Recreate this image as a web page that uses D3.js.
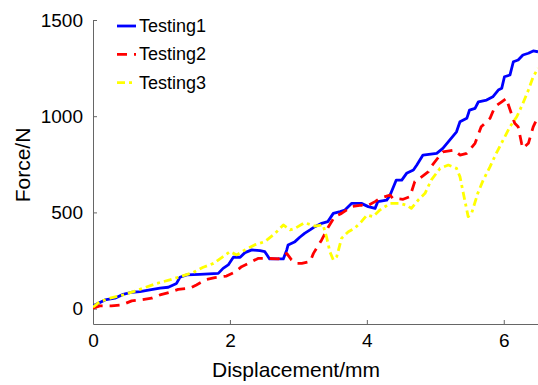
<!DOCTYPE html>
<html>
<head>
<meta charset="utf-8">
<script src="https://cdn.jsdelivr.net/npm/d3@7"></script>
<style>
  html, body { margin: 0; padding: 0; background: #fff; }
  svg { display: block; font-family: "Liberation Sans", Arial, sans-serif; }
</style>
</head>
<body>
<svg id="chart" width="538" height="385"></svg>
<script>
// Force–displacement curves of three tests
const seriesNames = ["Testing1", "Testing2", "Testing3"];

const disp1 = [0,0.175,0.32,0.44,0.565,0.686,0.83,0.978,1.10,1.22,1.27,1.37,1.56,1.83,1.90,1.975,2.05,2.15,2.22,2.32,2.44,2.51,2.58,2.78,2.83,2.85,2.95,3.02,3.09,3.17,3.24,3.34,3.43,3.51,3.61,3.68,3.78,3.92,4.02,4.12,4.16,4.29,4.34,4.43,4.51,4.58,4.68,4.73,4.82,5.02,5.11,5.21,5.31,5.36,5.46,5.50,5.58,5.63,5.75,5.84,5.92,5.97,6.01,6.09,6.14,6.21,6.28,6.36,6.43,6.50];
const force1 = [14,45,54,74,85,88,97,106,111,131,163,175,178,183,209,227,267,267,291,305,301,296,258,258,305,331,348,371,391,409,426,443,452,495,504,512,547,547,530,521,556,564,590,668,668,703,720,746,798,807,833,876,919,971,989,1032,1041,1075,1084,1101,1136,1145,1205,1214,1283,1292,1318,1327,1339,1335];

const disp2 = [0,0.10,0.27,0.42,0.565,0.686,0.857,0.978,1.12,1.245,1.416,1.51,1.66,1.78,1.95,2.07,2.17,2.27,2.41,2.56,2.705,2.78,2.83,2.90,2.97,3.05,3.17,3.22,3.34,3.44,3.53,3.63,3.78,3.92,4.0,4.12,4.19,4.34,4.38,4.53,4.63,4.70,4.77,4.90,4.94,5.07,5.11,5.28,5.36,5.46,5.58,5.67,5.80,5.87,5.97,6.04,6.06,6.11,6.16,6.21,6.26,6.28,6.36,6.43,6.50];
const force2 = [2,14,14,19,40,45,54,71,85,100,106,123,152,161,169,189,218,235,261,261,258,270,287,253,235,235,244,287,357,426,478,495,530,538,533,556,573,590,573,568,582,660,677,712,738,798,815,824,798,807,859,945,989,1049,1075,1093,1067,1015,963,945,859,833,859,945,997];

const disp3 = [0,0.10,0.25,0.44,0.59,0.73,0.93,1.12,1.32,1.46,1.61,1.76,1.90,2.0,2.10,2.22,2.36,2.51,2.66,2.78,2.88,2.95,3.09,3.24,3.36,3.41,3.46,3.51,3.56,3.63,3.73,3.82,3.92,4.0,4.09,4.19,4.34,4.48,4.58,4.65,4.75,4.85,4.94,5.07,5.19,5.31,5.36,5.43,5.48,5.53,5.62,5.70,5.80,5.89,5.99,6.09,6.19,6.28,6.36,6.43,6.50];
const force3 = [7,36,54,71,88,106,131,149,171,187,215,235,270,296,279,305,331,348,391,435,409,417,446,429,435,374,296,253,270,365,400,417,452,486,478,512,547,547,538,521,564,599,668,729,746,729,686,564,478,495,599,668,738,807,876,945,997,1067,1136,1205,1249];

const xTicks = [0, 2, 4, 6];
const yTicks = [0, 500, 1000, 1500];

const seriesColors = ["#0000ff", "#ff0000", "#ffff00"];
const seriesDash = [null, "10,7", "8,4,3,4"];

const series = [
  { name: seriesNames[0], d: disp1, f: force1 },
  { name: seriesNames[1], d: disp2, f: force2 },
  { name: seriesNames[2], d: disp3, f: force3 }
];

const svg = d3.select("#chart");
const plotLeft = 93, plotRight = 538, plotTop = 20, plotBottom = 324;

const x = d3.scaleLinear().domain([0, 6.5]).range([plotLeft, plotRight]);
const y = d3.scaleLinear().domain([-80, 1500]).range([plotBottom, plotTop]);

// clip region for the curves
svg.append("defs").append("clipPath").attr("id", "plotClip")
  .append("rect").attr("x", plotLeft).attr("y", plotTop - 2)
  .attr("width", plotRight - plotLeft).attr("height", plotBottom - plotTop + 2);

const axisColor = "#666666";

const xAxis = svg.append("g")
  .attr("transform", `translate(0,${plotBottom})`)
  .call(d3.axisBottom(x).tickValues(xTicks).tickFormat(d3.format("d"))
    .tickSizeInner(-4).tickSizeOuter(0).tickPadding(10));

const yAxis = svg.append("g")
  .attr("transform", `translate(${plotLeft},0)`)
  .call(d3.axisLeft(y).tickValues(yTicks).tickFormat(d3.format("d"))
    .tickSizeInner(-4).tickSizeOuter(0).tickPadding(10));

[xAxis, yAxis].forEach(g => {
  g.select(".domain").attr("stroke", axisColor).attr("stroke-width", 1);
  g.selectAll(".tick line").attr("stroke", axisColor).attr("stroke-width", 1);
  g.selectAll(".tick text").attr("fill", "#000").style("font-size", "19px")
    .style("font-family", "'Liberation Sans', Arial, sans-serif");
});

// curves
const line = d3.line().x(p => x(p[0])).y(p => y(p[1]));
const plot = svg.append("g").attr("clip-path", "url(#plotClip)");
series.forEach((s, i) => {
  const pts = s.d.map((v, k) => [v, s.f[k]]);
  plot.append("path")
    .datum(pts)
    .attr("fill", "none")
    .attr("stroke", seriesColors[i])
    .attr("stroke-width", 2.8)
    .attr("stroke-linejoin", "round")
    .attr("stroke-dasharray", seriesDash[i])
    .attr("d", line);
});

// axis titles
svg.append("text")
  .attr("x", 296).attr("y", 377)
  .attr("text-anchor", "middle")
  .style("font-size", "21px")
  .text("Displacement/mm");

svg.append("text")
  .attr("transform", `translate(30,165) rotate(-90)`)
  .attr("text-anchor", "middle")
  .style("font-size", "21px")
  .text("Force/N");

// legend
const legend = svg.append("g");
series.forEach((s, i) => {
  const ly = 26 + i * 28.3;
  legend.append("line")
    .attr("x1", 117).attr("x2", 136)
    .attr("y1", ly).attr("y2", ly)
    .attr("stroke", seriesColors[i])
    .attr("stroke-width", 2.8)
    .attr("stroke-dasharray", seriesDash[i]);
  legend.append("text")
    .attr("x", 139).attr("y", ly + 6)
    .style("font-size", "18px")
    .text(s.name);
});
</script>
</body>
</html>
